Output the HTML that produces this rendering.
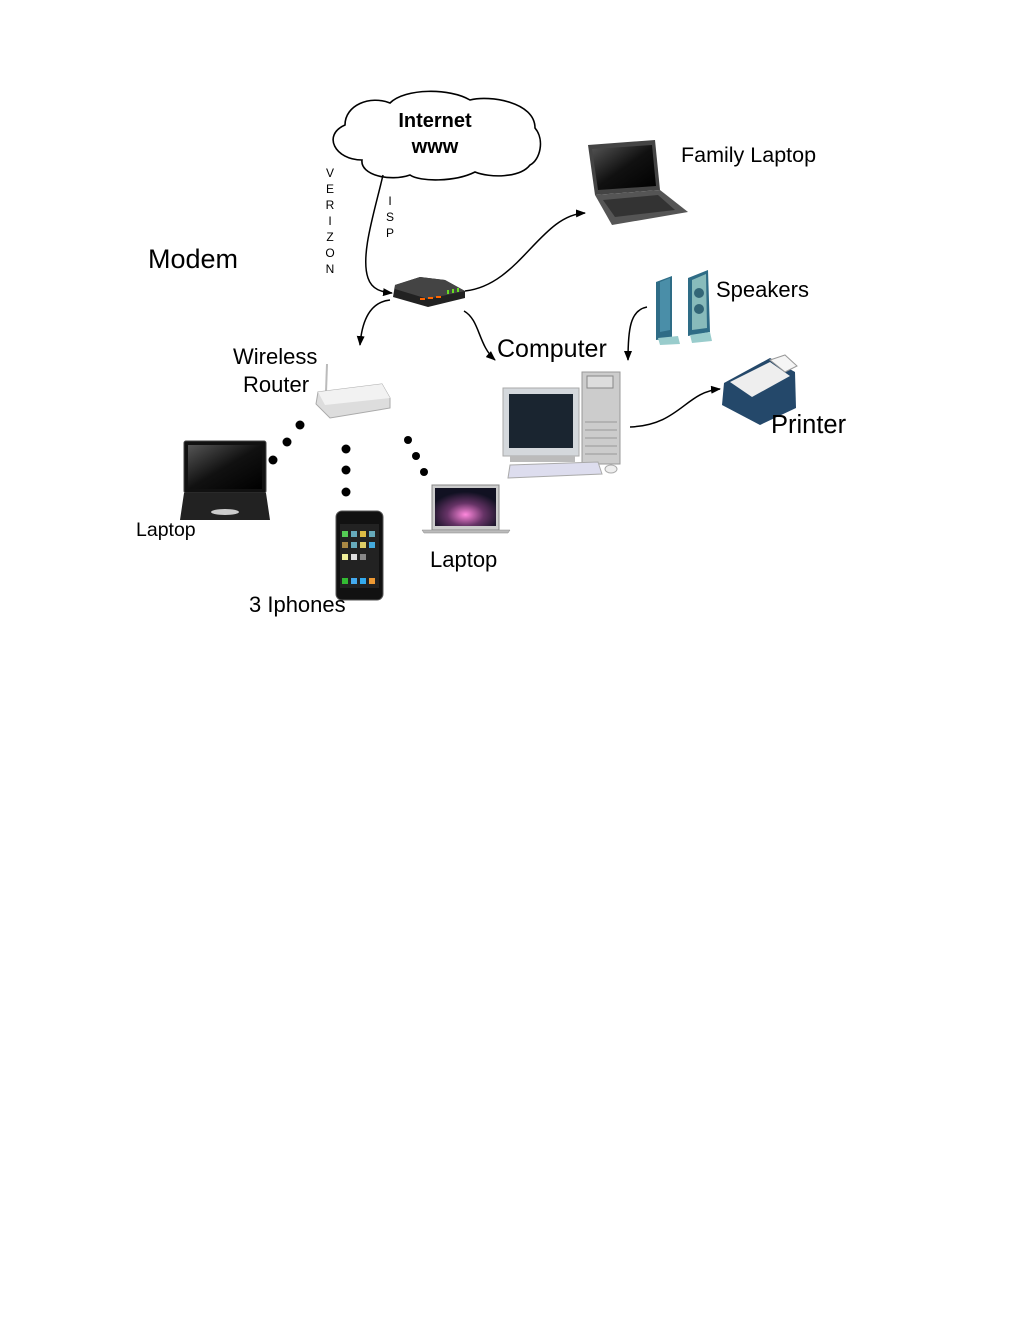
<!DOCTYPE html>
<html><head><meta charset="utf-8"><style>
html,body{margin:0;padding:0;background:#fff;}
svg{display:block;}
text{font-family:"Liberation Sans",sans-serif;fill:#000;}
</style></head><body>
<svg width="1020" height="1320" viewBox="0 0 1020 1320" xmlns="http://www.w3.org/2000/svg">
<defs>
<marker id="ar" markerWidth="10" markerHeight="8" refX="9" refY="4" orient="auto" markerUnits="userSpaceOnUse"><path d="M0,0 L10,4 L0,8 z" fill="#000"/></marker>
<linearGradient id="scr" x1="0" y1="0" x2="1" y2="1"><stop offset="0" stop-color="#555"/><stop offset=".5" stop-color="#111"/><stop offset="1" stop-color="#000"/></linearGradient>
<radialGradient id="mac" cx=".5" cy=".7" r=".6"><stop offset="0" stop-color="#f8d"/><stop offset=".5" stop-color="#636"/><stop offset="1" stop-color="#112"/></radialGradient>
</defs>
<path d="M362,160 C335,160 322,135 345,125 C345,105 370,95 390,103 C405,88 450,88 470,100 C490,95 535,102 535,128 C545,140 540,160 530,165 C520,178 490,178 475,172 C455,182 420,182 410,175 C390,182 360,175 362,160 Z" fill="#fff" stroke="#000" stroke-width="1.6"/>
<text x="435" y="127" font-size="20" font-weight="bold" text-anchor="middle">Internet</text>
<text x="435" y="153" font-size="20" font-weight="bold" text-anchor="middle">www</text>
<g font-size="12" text-anchor="middle">
<text x="330" y="177">V</text><text x="330" y="193">E</text><text x="330" y="209">R</text><text x="330" y="225">I</text><text x="330" y="241">Z</text><text x="330" y="257">O</text><text x="330" y="273">N</text>
<text x="390" y="205">I</text><text x="390" y="221">S</text><text x="390" y="237">P</text>
</g>
<text x="148" y="268" font-size="27">Modem</text>
<g fill="none" stroke="#000" stroke-width="1.5" marker-end="url(#ar)">
<path d="M383,175 C375,210 360,255 368,278 C372,290 382,292 392,293"/>
<path d="M465,291 C520,285 540,215 585,213"/>
<path d="M390,300 C370,302 362,320 360,345"/>
<path d="M464,311 C480,320 478,345 495,360"/>
<path d="M647,307 C630,310 628,330 628,360"/>
<path d="M630,427 C680,425 685,392 720,389"/>
</g>
<path d="M395,285 L420,277 L445,280 L465,291 L465,298 L428,307 L393,297 Z" fill="#222"/>
<path d="M395,285 L420,277 L445,280 L465,291 L428,299 L395,289Z" fill="#444"/>
<g fill="#f60"><rect x="420" y="298" width="5" height="2"/><rect x="428" y="297" width="5" height="2"/><rect x="436" y="296" width="5" height="2"/></g>
<g fill="#6d2"><rect x="447" y="290" width="2" height="4"/><rect x="452" y="289" width="2" height="4"/><rect x="457" y="288" width="2" height="4"/></g>
<path d="M588,145 L655,140 L660,190 L595,195 Z" fill="#444"/>
<path d="M592,149 L652,145 L656,186 L598,190 Z" fill="url(#scr)"/>
<path d="M595,195 L660,190 L688,212 L612,225 Z" fill="#555"/>
<path d="M603,200 L658,195 L675,210 L615,217 Z" fill="#333"/>
<text x="681" y="162" font-size="21.5">Family Laptop</text>
<path d="M656,282 L672,276 L672,338 L656,340 Z" fill="#2e6c86"/><path d="M660,282 L670,278 L670,330 L660,332Z" fill="#4a8ea8"/>
<path d="M658,338 L678,336 L680,344 L660,345Z" fill="#9cc"/>
<path d="M688,278 L708,270 L710,332 L688,336 Z" fill="#2e6c86"/><path d="M692,280 L706,274 L707,328 L692,330Z" fill="#8bb"/>
<circle cx="699" cy="293" r="5" fill="#367"/><circle cx="699" cy="309" r="5" fill="#367"/>
<path d="M690,335 L710,332 L712,341 L692,343Z" fill="#9cc"/>
<text x="716" y="297" font-size="22">Speakers</text>
<text x="497" y="357" font-size="25">Computer</text>
<rect x="582" y="372" width="38" height="92" fill="#ccc" stroke="#999"/>
<g stroke="#999"><line x1="585" y1="422" x2="617" y2="422"/><line x1="585" y1="430" x2="617" y2="430"/><line x1="585" y1="438" x2="617" y2="438"/><line x1="585" y1="446" x2="617" y2="446"/><line x1="585" y1="454" x2="617" y2="454"/></g>
<rect x="587" y="376" width="26" height="12" fill="#ddd" stroke="#888"/>
<rect x="503" y="388" width="76" height="68" fill="#d4d8dc" stroke="#aaa"/>
<rect x="509" y="394" width="64" height="54" fill="#1a2530"/>
<rect x="510" y="456" width="65" height="6" fill="#bbb"/>
<path d="M510,465 L598,462 L602,474 L508,478Z" fill="#dde" stroke="#aaa"/>
<ellipse cx="611" cy="469" rx="6" ry="4" fill="#eee" stroke="#aaa"/>
<path d="M724,383 L770,358 L795,372 L796,408 L760,425 L722,405Z" fill="#24486a"/>
<path d="M730,382 L770,362 L790,376 L752,397Z" fill="#eee"/>
<path d="M770,360 L785,355 L797,366 L785,372Z" fill="#f5f5f5" stroke="#999"/>
<text x="771" y="433" font-size="25.5">Printer</text>
<text x="233" y="364" font-size="22">Wireless</text>
<text x="243" y="392" font-size="22">Router</text>
<line x1="327" y1="364" x2="326" y2="392" stroke="#bbb" stroke-width="2"/>
<path d="M318,392 L382,384 L390,398 L390,408 L330,418 L316,404Z" fill="#ddd" stroke="#aaa"/>
<path d="M318,392 L382,384 L390,398 L325,405Z" fill="#f2f2f2"/>
<g fill="#000"><circle cx="300" cy="425" r="4.5"/><circle cx="287" cy="442" r="4.5"/><circle cx="273" cy="460" r="4.5"/>
<circle cx="346" cy="449" r="4.5"/><circle cx="346" cy="470" r="4.5"/><circle cx="346" cy="492" r="4.5"/>
<circle cx="408" cy="440" r="4"/><circle cx="416" cy="456" r="4"/><circle cx="424" cy="472" r="4"/></g>
<rect x="184" y="441" width="82" height="52" rx="2" fill="#111" stroke="#444"/>
<rect x="188" y="445" width="74" height="44" fill="url(#scr)"/>
<path d="M184,493 L266,493 L270,520 L180,520Z" fill="#222"/>
<ellipse cx="225" cy="512" rx="14" ry="3" fill="#ccc"/>
<text x="136" y="536" font-size="19.5">Laptop</text>
<rect x="336" y="511" width="47" height="89" rx="6" fill="#111" stroke="#555"/>
<rect x="340" y="524" width="39" height="64" fill="#222"/>
<g fill="#6ab"><rect x="342" y="531" width="6" height="6" fill="#5c5"/><rect x="351" y="531" width="6" height="6"/><rect x="360" y="531" width="6" height="6" fill="#db4"/><rect x="369" y="531" width="6" height="6"/>
<rect x="342" y="542" width="6" height="6" fill="#a84"/><rect x="351" y="542" width="6" height="6"/><rect x="360" y="542" width="6" height="6" fill="#dc6"/><rect x="369" y="542" width="6" height="6" fill="#4ad"/>
<rect x="342" y="554" width="6" height="6" fill="#ee9"/><rect x="351" y="554" width="6" height="6" fill="#ddd"/><rect x="360" y="554" width="6" height="6" fill="#888"/>
<rect x="342" y="578" width="6" height="6" fill="#3b3"/><rect x="351" y="578" width="6" height="6" fill="#4ae"/><rect x="360" y="578" width="6" height="6" fill="#3ae"/><rect x="369" y="578" width="6" height="6" fill="#e93"/></g>
<text x="249" y="612" font-size="22">3 Iphones</text>
<rect x="432" y="485" width="67" height="45" fill="#ccc" stroke="#888"/>
<rect x="435" y="488" width="61" height="38" fill="url(#mac)"/>
<path d="M422,530 L510,530 L508,533 L424,533Z" fill="#bbb" stroke="#888" stroke-width=".5"/>
<text x="430" y="567" font-size="22">Laptop</text>
</svg>
</body></html>
